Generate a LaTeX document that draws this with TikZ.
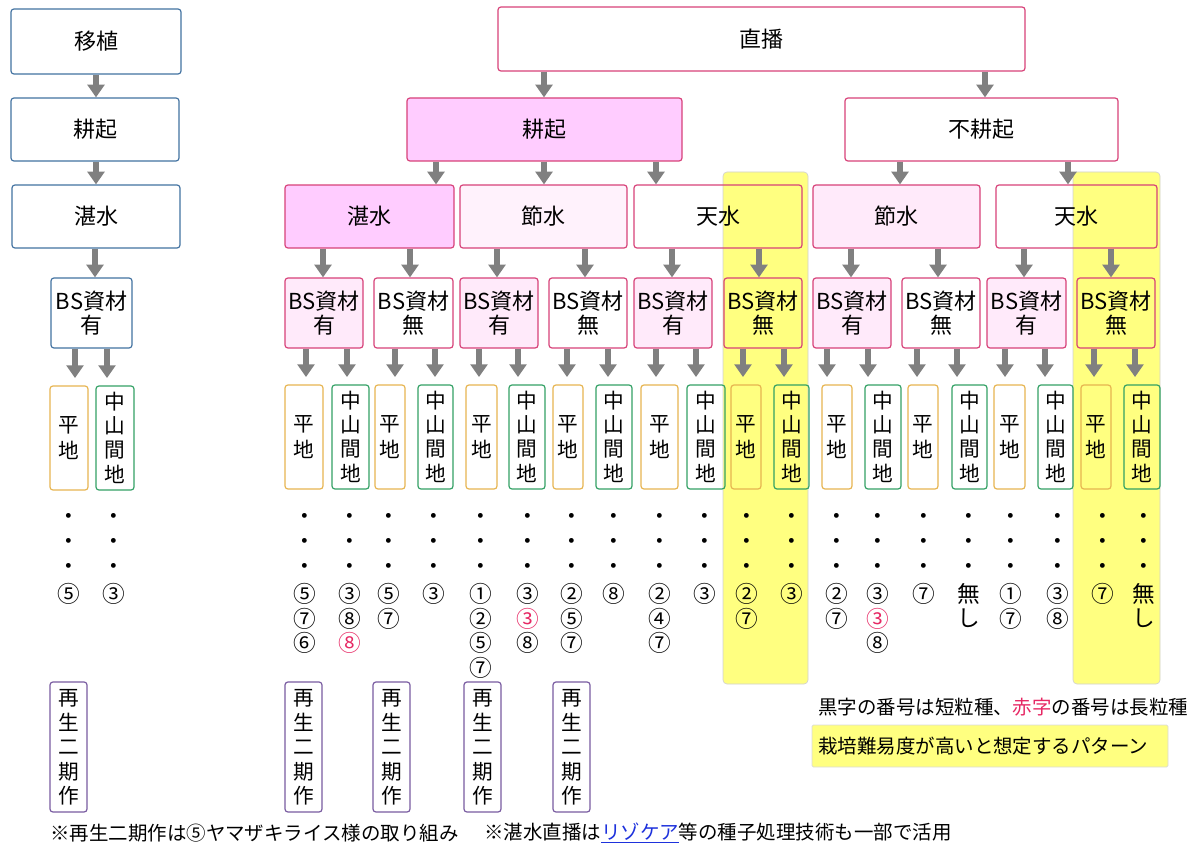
\documentclass[tikz,border=0pt]{standalone}
\usepackage{fontspec}
\setmainfont{Noto Sans CJK JP}
\usetikzlibrary{fit,arrows.meta}
\definecolor{blueln}{RGB}{65,113,160}
\definecolor{pinkln}{RGB}{215,65,120}
\definecolor{kpink}{RGB}{255,204,255}
\definecolor{lpa}{RGB}{255,242,252}
\definecolor{lpb}{RGB}{255,234,250}
\definecolor{goldln}{RGB}{230,180,80}
\definecolor{greenln}{RGB}{50,160,100}
\definecolor{purpln}{RGB}{120,90,160}
\definecolor{arrgray}{RGB}{128,128,128}
\definecolor{hlyellow}{RGB}{255,255,128}
\definecolor{numred}{RGB}{230,40,100}
\definecolor{linkblue}{RGB}{30,50,220}
\newcommand\boxfont{\fontsize{16.5pt}{18pt}\selectfont}
\newcommand\vfont{\fontsize{15.5pt}{18.4pt}\selectfont}
\newcommand\numfont{\fontsize{17pt}{18pt}\selectfont}
\newcommand\notefont{\fontsize{14.6pt}{17pt}\selectfont}
\newcommand\rd[1]{{\color{numred}#1}}
% vertical connector at a given x between two named nodes
\newcommand\varr[4][]{\coordinate (vx) at (#2,0); \draw[arr,#1] (#3.south -| vx) -- (#4.north -| vx);}
% single-line label at the centre of a box
\newcommand\btxt[2]{\node[txt] (#1-t) at (#1.center) {#2};}
% "BS資材 / 有・無" label
\newcommand\bstxt[2]{\node[txt, yshift=9pt] (#1-ta) at (#1.center) {BS資材}; \node[txt, yshift=-9pt] (#1-tb) at (#1.center) {#2};}
% vertically stacked characters
\newcommand\vtxt[3]{\foreach \ch [count=\k] in {#3} {\node[vt, yshift={((#2+1)/2-\k)*18.375pt}] (#1-\k) at (#1.center) {\ch};}}
\begin{document}
\begin{tikzpicture}[x=0.75pt,y=-0.75pt,
  bx/.style={draw, rounded corners=2.2pt, line width=0.9pt, inner sep=0pt},
  bl/.style={bx, draw=blueln},
  pk/.style={bx, draw=pinkln},
  hei/.style={bx, draw=goldln},
  chu/.style={bx, draw=greenln},
  sai/.style={bx, draw=purpln},
  txt/.style={font=\boxfont, inner sep=0pt},
  vt/.style={font=\vfont, inner sep=0pt},
  arr/.style={draw=arrgray, line width=4.5pt, -{Triangle[length=9.5pt,width=12.5pt]}},
  num/.style={font=\numfont, inner sep=0pt},
  note/.style={font=\notefont, inner sep=0pt, anchor=west},
  hl/.style={fill=hlyellow, draw=black!18, line width=0.5pt, rounded corners=3pt}
]
\useasboundingbox (0,0) rectangle (1195,845);
% highlight columns
\path[hl] (723,172) rectangle (808,684);
\path[hl] (1073,172) rectangle (1160,684);

% left column (transplanting)
\node[bl, fit={(11,9)(181,74)}] (ishoku) {};
\btxt{ishoku}{移植}
\node[bl, fit={(11,98)(179,161)}] (Lkoki) {};
\btxt{Lkoki}{耕起}
\node[bl, fit={(12,185)(180,248)}] (Ltansui) {};
\btxt{Ltansui}{湛水}
\node[bl, fit={(51,278)(132,348)}] (Lbs) {};
\bstxt{Lbs}{有}
\node[hei, fit={(50,386)(88,490)}] (Lhei) {};
\vtxt{Lhei}{2}{平,地}
\node[chu, fit={(96,386)(134,490)}] (Lchu) {};
\vtxt{Lchu}{4}{中,山,間,地}
\node[sai, fit={(50,682)(87,812)}] (Lsai) {};
\vtxt{Lsai}{5}{再,生,二,期,作}
\varr{96}{ishoku}{Lkoki}
\varr{96}{Lkoki}{Ltansui}
\varr{95}{Ltansui}{Lbs}
\varr[shorten >=5.5pt]{75}{Lbs}{Lhei}
\varr[shorten >=5.5pt]{107}{Lbs}{Lchu}

% direct seeding tree
\node[pk, fit={(498,7)(1025,71)}] (choku) {};
\btxt{choku}{直播}
\node[pk, fill=kpink, fit={(407,98)(682,161)}] (koki) {};
\btxt{koki}{耕起}
\node[pk, fit={(845,98)(1118,161)}] (fukoki) {};
\btxt{fukoki}{不耕起}
\node[pk, fill=kpink, fit={(285,185)(454,248)}] (t1) {};
\btxt{t1}{湛水}
\node[pk, fill=lpa, fit={(460,185)(627,248)}] (s1) {};
\btxt{s1}{節水}
\node[pk, fit={(634,185)(802,248)}] (te1) {};
\btxt{te1}{天水}
\node[pk, fill=lpb, fit={(813,185)(980,248)}] (s2) {};
\btxt{s2}{節水}
\node[pk, fit={(996,185)(1157,248)}] (te2) {};
\btxt{te2}{天水}
\varr{544}{choku}{koki}
\varr{985}{choku}{fukoki}
\varr{436}{koki}{t1}
\varr{544}{koki}{s1}
\varr{656}{koki}{te1}
\varr{900}{fukoki}{s2}
\varr{1068}{fukoki}{te2}

\foreach \n/\xa/\xb/\f/\t in {1/285/363/lpb/有, 2/374/453/white/無, 3/460/538/lpb/有, 4/549/627/white/無, 5/634/712/lpb/有, 6/724/802/none/無, 7/813/891/lpb/有, 8/902/980/white/無, 9/987/1066/lpb/有, 10/1077/1155/none/無} {
  \node[pk, fill=\f, fit={(\xa,278)(\xb,348)}] (b\n) {};
  \bstxt{b\n}{\t}
}
\varr{323}{t1}{b1}
\varr{410}{t1}{b2}
\varr{497}{s1}{b3}
\varr{585}{s1}{b4}
\varr{672}{te1}{b5}
\varr{759}{te1}{b6}
\varr{851}{s2}{b7}
\varr{938}{s2}{b8}
\varr{1024}{te2}{b9}
\varr{1111}{te2}{b10}

\foreach \n/\ha/\hb/\ca/\cb/\xh/\xc in {1/285/323/332/369/306/347, 2/375/405/418/453/395/435, 3/466/497/509/545/479/518, 4/553/583/596/632/567/608, 5/641/678/687/725/656/696, 6/731/761/774/809/743/784, 7/822/852/865/901/827/868, 8/908/938/952/987/917/957, 9/994/1025/1038/1073/1005/1045, 10/1081/1111/1124/1160/1094/1135} {
  \node[hei, fit={(\ha,385)(\hb,489)}] (h\n) {};
  \vtxt{h\n}{2}{平,地}
  \node[chu, fit={(\ca,385)(\cb,489)}] (c\n) {};
  \vtxt{c\n}{4}{中,山,間,地}
  \varr[shorten >=5.5pt]{\xh}{b\n}{h\n}
  \varr[shorten >=5.5pt]{\xc}{b\n}{c\n}
}

% number columns
\foreach \x/\items [count=\c] in {69/{・,・,・,⑤}, 114/{・,・,・,③},
  305/{・,・,・,⑤,⑦,⑥}, 350/{・,・,・,③,⑧,\rd{⑧}}, 389/{・,・,・,⑤,⑦}, 434/{・,・,・,③},
  481/{・,・,・,①,②,⑤,⑦}, 528/{・,・,・,③,\rd{③},⑧}, 572/{・,・,・,②,⑤,⑦}, 614/{・,・,・,⑧},
  660/{・,・,・,②,④,⑦}, 705/{・,・,・,③}, 747/{・,・,・,②,⑦}, 792/{・,・,・,③},
  837/{・,・,・,②,⑦}, 878/{・,・,・,③,\rd{③},⑧}, 924/{・,・,・,⑦}, 969/{・,・,・,無,し},
  1011/{・,・,・,①,⑦}, 1058/{・,・,・,③,⑧}, 1103/{・,・,・,⑦}, 1144/{・,・,・,無,し}} {
  \foreach \t [count=\k] in \items {
    \node[num] (n\c-\k) at (\x, 494.5+24.8*\k) {\t};
  }
}

% ratoon boxes
\node[sai, fit={(285,682)(322,812)}] (r1) {};
\vtxt{r1}{5}{再,生,二,期,作}
\node[sai, fit={(373,682)(410,812)}] (r2) {};
\vtxt{r2}{5}{再,生,二,期,作}
\node[sai, fit={(464,682)(501,812)}] (r3) {};
\vtxt{r3}{5}{再,生,二,期,作}
\node[sai, fit={(553,682)(590,812)}] (r4) {};
\vtxt{r4}{5}{再,生,二,期,作}

% legend
\node[note] (leg1) at (818,707) {黒字の番号は短粒種、{\color{numred}赤字}の番号は長粒種};
\node[fit={(812,725)(1168,767)}, inner sep=0pt, fill=hlyellow, draw=black!15, line width=0.5pt, rounded corners=1pt] (leg2) {};
\node[note] (leg2t) at (818,746) {栽培難易度が高いと想定するパターン};

% footnotes
\node[note] (fn1) at (50,833) {※再生二期作は⑤ヤマザキライス様の取り組み};
\node[note] (fn2) at (484,833) {※湛水直播は{\color{linkblue}\underline{リゾケア}}等の種子処理技術も一部で活用};
\end{tikzpicture}
\end{document}
